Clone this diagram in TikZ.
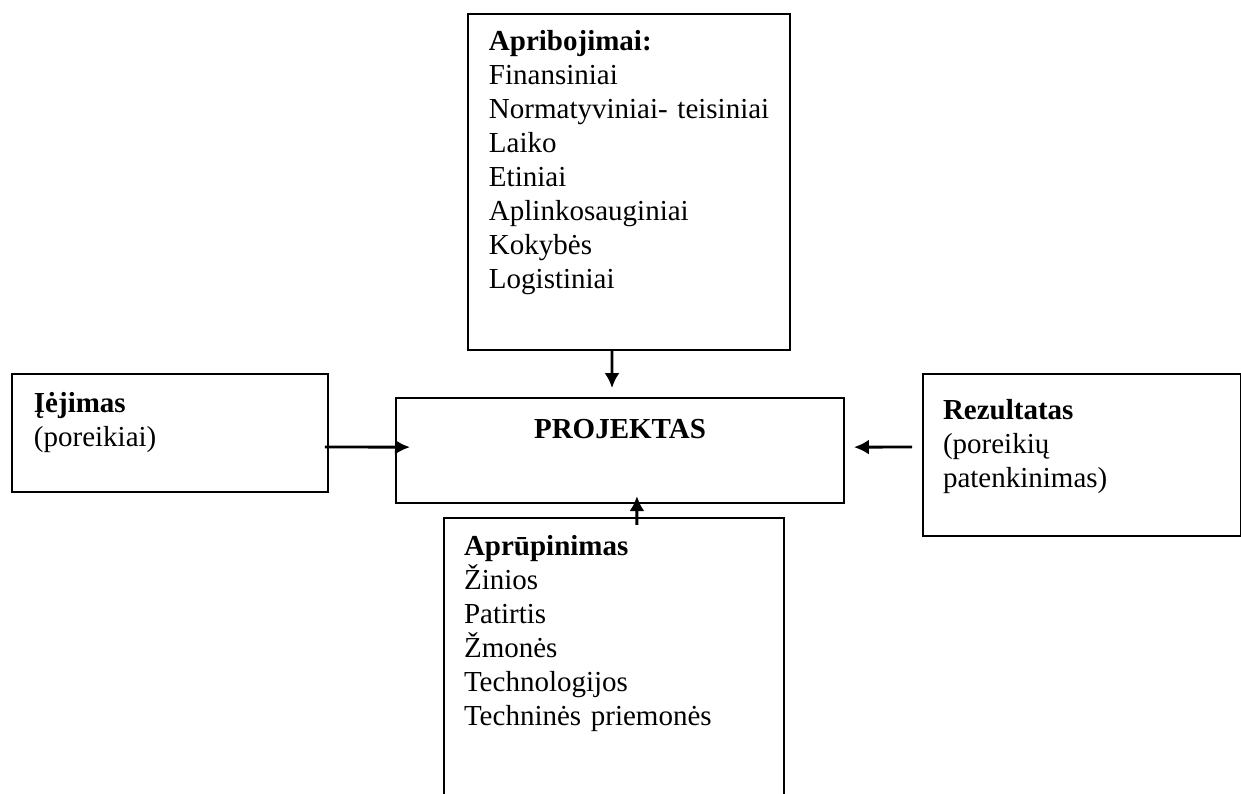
\documentclass[tikz,border=0pt]{standalone}
\usepackage{fontspec}
\setmainfont{Liberation Serif}
\usetikzlibrary{positioning,arrows.meta}
\tikzset{
	every node/.style = {font=\fontsize{12}{14.07}\selectfont, inner ysep=0pt},
	>={Latex[length=6.2pt,width=6.2pt]},
	box/.style = {draw, line width=0.8pt, anchor=north west, align=left},
	link/.style = {->, line width=1.2pt}
}

\begin{document}
\begin{tikzpicture}[x=0.4138pt, y=-0.4138pt]
		\useasboundingbox (0,0) rectangle (1241,794);
		\node(limits)[box, inner xsep=8.7pt, text width=115.8pt, text height=15.3pt, text depth=123.7pt] at (467,13) {\textbf{Apribojimai:}\\Finansiniai\\\mbox{Normatyviniai- teisiniai}\\Laiko\\Etiniai\\Aplinkosauginiai\\Kokybės\\Logistiniai};
		\node(proj)[box, align=center, inner xsep=0pt, text width=185.4pt, text height=16.6pt, text depth=26.9pt] at (395,397) {\textbf{PROJEKTAS}};
		\node(inp)[box, inner xsep=9.1pt, text width=112.6pt, text height=16.1pt, text depth=32.7pt] at (11,373) {\textbf{Įėjimas}\\(poreikiai)};
		\node(res)[box, inner xsep=8.3pt, text width=115pt, text height=19pt, text depth=48pt] at (922,373) {\textbf{Rezultatas}\\(poreikių\\patenkinimas)};
		\node(sup)[box, inner xsep=8.3pt, text width=124.1pt, text height=15.7pt, text depth=101.4pt] at (443,517) {\textbf{Aprūpinimas}\\Žinios\\Patirtis\\Žmonės\\Technologijos\\Techninės priemonės};

		\draw[link] ([xshift=-7pt]limits.south) -- ([xshift=-3.3pt, yshift=3.7pt]proj.north);
		\draw[link] ([xshift=-1.7pt, yshift=-5.8pt]inp.east) -- ([xshift=6.2pt, yshift=1.4pt]proj.west);
		\draw[link] ([xshift=-4.1pt, yshift=3.3pt]res.west) -- ([xshift=3.7pt, yshift=1.4pt]proj.east);
		\draw[link] ([xshift=9.5pt, yshift=-3.3pt]sup.north) -- ([xshift=7pt, yshift=3.3pt]proj.south);
\end{tikzpicture}
\end{document}
